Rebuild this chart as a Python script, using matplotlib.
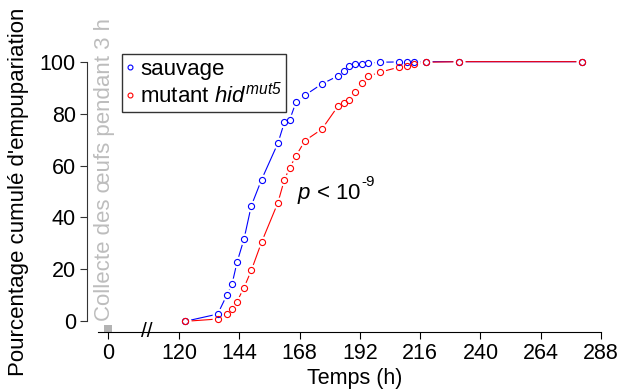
import numpy as np
import matplotlib
matplotlib.use("Agg")
import matplotlib.pyplot as plt

plt.rcParams['font.family'] = ['Liberation Sans', 'DejaVu Sans']
plt.rcParams['mathtext.fontset'] = 'custom'
plt.rcParams['mathtext.rm'] = 'Liberation Sans'
plt.rcParams['mathtext.it'] = 'Liberation Sans:italic'
plt.rcParams['mathtext.sf'] = 'Liberation Sans:italic'  # pour "mut5" tout en italique

# temps des mesures (h)
temps = [122.3, 135.3, 138.9, 141, 143, 145.8, 148.7, 152.8, 159.3, 161.9, 164,
         166.5, 170.1, 176.8, 183.4, 185.6, 187.8, 190, 192.8, 195.3, 200.1,
         207.6, 210.9, 213.6, 218.4, 231.5, 280.5]
# pourcentage cumule d'empupariation
sauvage = [0, 2.8, 10, 14.2, 22.7, 31.7, 44.5, 54.6, 68.6, 76.7, 77.6,
           84.4, 87.1, 91.4, 94.6, 96.4, 98.5, 99, 99.2, 99.4, 99.8,
           99.9, 99.9, 99.9, 100, 100, 100]
mutant = [0, 0.9, 3, 4.8, 7.6, 13, 19.6, 30.5, 45.7, 54.6, 59.1,
          63.7, 69.6, 74, 83.1, 84.1, 85.2, 88.5, 91.9, 94.4, 96,
          97.9, 98.3, 99.1, 99.8, 100, 100]

xticks = [120, 144, 168, 192, 216, 240, 264, 288]
pos_zero = 91.6   # position du 0 sur l'axe coupe
fs = 15.5

fig = plt.figure(figsize=(6.19, 3.91), dpi=100)
ax = fig.add_axes([87/619, 0.1509, 524/619, 0.7179])
ax.set_xlim(83.25, 292)
ax.set_ylim(-4.1, 104)

series = [(sauvage, 'blue', 'sauvage'),
          (mutant, 'red', r'mutant $hid^{\mathsf{mut5}}$')]
for y, col, lab in series:
    ax.plot(temps, y, color=col, lw=0.8, zorder=2)
for y, col, lab in series:
    # petits blancs autour des points (style type="b")
    ax.plot(temps, y, ls='none', marker='o', ms=8.5, mfc='white', mec='white',
            mew=0, zorder=3)
handles = []
for y, col, lab in series:
    h, = ax.plot(temps, y, ls='none', marker='o', ms=4.4, mfc='none', mec=col,
                 mew=0.8, zorder=4, label=lab)
    handles.append(h)

leg = ax.legend(handles=handles, loc='upper left', bbox_to_anchor=(0.067, 0.99),
                borderaxespad=0, fontsize=16, frameon=True, fancybox=False,
                edgecolor='black', handlelength=0.3, handletextpad=0.3,
                borderpad=0.2, labelspacing=0.1, markerscale=0.8)
leg.get_frame().set_linewidth(1.0)

t1 = ax.text(167, 49, r'$p$ < 10', fontsize=16, ha='left', va='center')
ax.annotate('-9', xy=(1.0, 0.72), xycoords=t1, fontsize=11, ha='left',
            va='bottom')

# collecte des oeufs
ax.bar(pos_zero, 4.1 - 1.3, bottom=-4.1, width=3, color='#b3b3b3', zorder=1,
       clip_on=False)
ax.text(pos_zero - 1.2, 0.3, 'Collecte des œufs pendant 3 h', rotation=90,
        color='#bdbdbd', fontsize=16, ha='center', va='bottom')

# coupure de l'axe
ax.text(107, -4.1, '//', fontsize=15, ha='center', va='center')

ax.spines['top'].set_visible(False)
ax.spines['right'].set_visible(False)
ax.spines['left'].set_bounds(0, 100)
ax.spines['bottom'].set_bounds(87.6, 288)
ax.spines['left'].set_color('#333333')
ax.set_yticks([0, 20, 40, 60, 80, 100])
ax.set_xticks([pos_zero] + xticks)
ax.set_xticklabels(['0'] + [str(v) for v in xticks])
ax.tick_params(axis='both', direction='out', length=5, width=0.8, labelsize=fs,
               pad=3)
ax.tick_params(axis='y', color='#333333')
ax.get_xticklines()[0].set_color('#b3b3b3')

ax.set_xlabel('Temps (h)', fontsize=fs)
ax.xaxis.set_label_coords(0.51, -0.128)
ax.xaxis.label.set_va('top')
ax.set_ylabel("Pourcentage cumulé d'empupariation", fontsize=16)
ax.yaxis.set_label_coords(-0.111, 0.5)

fig.savefig('out.png', dpi=100)
